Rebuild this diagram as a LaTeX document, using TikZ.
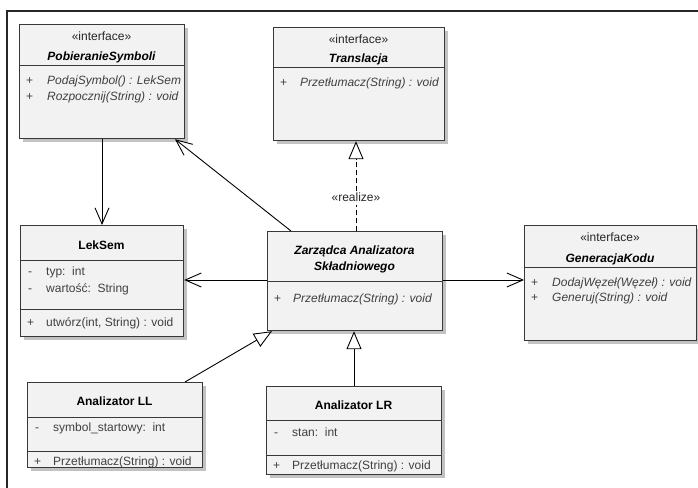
\documentclass[tikz,border=0pt]{standalone}
\usepackage{fontspec}
\setmainfont{Liberation Sans}
\usetikzlibrary{arrows.meta,calc}
\definecolor{boxfill}{HTML}{F2F2F2}
\definecolor{boxline}{HTML}{383838}
\definecolor{shadowc}{HTML}{C2C2C2}
\definecolor{membc}{HTML}{404040}
\newcommand\umlfont{\fontsize{12}{14}\selectfont}
\tikzset{
  classbox/.style={draw=boxline, fill=boxfill, line width=1.2pt, inner sep=0pt, anchor=north west},
  sepline/.style={draw=boxline, line width=1pt},
  txt/.style={inner sep=0pt, font=\umlfont, text=membc, text height=8.6pt, text depth=2.5pt},
  ster/.style={txt, anchor=center, text=black!85},
  iname/.style={txt, anchor=center, text=black, font=\umlfont\bfseries\itshape},
  cname/.style={txt, anchor=center, text=black, font=\umlfont\bfseries},
  vis/.style={txt, anchor=west},
  memb/.style={txt, anchor=west},
  imemb/.style={txt, anchor=west, font=\umlfont\itshape},
  assoc/.style={draw=black, line width=0.9pt, -{Straight Barb[length=16pt,width=14pt,line width=0.9pt]}},
  gener/.style={draw=black, line width=0.9pt, -{Triangle[open,length=18pt,width=15pt,line width=0.9pt,fill=white]}},
  realz/.style={gener, dash pattern=on 5pt off 3pt},
  frameline/.style={draw=black!85, line width=1.3pt}
}
\newcommand\umlclass[5]{%
  \fill[shadowc] (#2+4,#3+4) rectangle (#4+4,#5+4);
  \node[classbox, minimum width={#4-#2}, minimum height={#5-#3}] (#1) at (#2,#3) {};
}
\begin{document}
\begin{tikzpicture}[x=1pt,y=-1pt]
\useasboundingbox (0,0) rectangle (698,487);
\clip (0,0) rectangle (698,487);
\fill[white] (0,0) rectangle (698,487);
\draw[frameline] (7,500) -- (7,11) -- (710,11);

% PobieranieSymboli
\umlclass{pob}{19}{24}{184}{138}
\draw[sepline] (19,65) -- (184,65);
\node[ster] (pob-s) at (101.5,37) {«interface»};
\node[iname] (pob-n) at (101.5,57) {PobieranieSymboli};
\node[vis] (pob-v1) at (26,81) {+};
\node[imemb] (pob-m1) at (47,81) {PodajSymbol() : LekSem};
\node[vis] (pob-v2) at (26,97) {+};
\node[imemb] (pob-m2) at (47,97) {Rozpocznij(String) : void};

% Translacja
\umlclass{tra}{273}{27}{444}{140}
\draw[sepline] (273,67) -- (444,67);
\node[ster] (tra-s) at (358.5,40) {«interface»};
\node[iname] (tra-n) at (358.5,59) {Translacja};
\node[vis] (tra-v1) at (280,83) {+};
\node[imemb] (tra-m1) at (300,83) {Przetłumacz(String) : void};

% LekSem
\umlclass{lek}{20}{225}{183}{336}
\draw[sepline] (20,260) -- (183,260);
\draw[sepline] (20,309) -- (183,309);
\node[cname] (lek-n) at (101.5,246) {LekSem};
\node[vis] (lek-v1) at (28,272) {-};
\node[memb] (lek-a1) at (46,272) {typ:\ \ int};
\node[vis] (lek-v2) at (28,289) {-};
\node[memb] (lek-a2) at (46,289) {wartość:\ \ String};
\node[vis] (lek-v3) at (27,323) {+};
\node[memb] (lek-m1) at (46,323) {utwórz(int, String) : void};

% Zarzadca
\umlclass{zar}{267}{231}{442}{330}
\draw[sepline] (267,281) -- (442,281);
\node[iname] (zar-n1) at (354.5,251) {Zarządca Analizatora};
\node[iname] (zar-n2) at (354.5,267) {Składniowego};
\node[vis] (zar-v1) at (274,299) {+};
\node[imemb] (zar-m1) at (293,299) {Przetłumacz(String) : void};

% GeneracjaKodu
\umlclass{gen}{524}{225}{696}{340}
\draw[sepline] (524,267) -- (696,267);
\node[ster] (gen-s) at (610,238) {«interface»};
\node[iname] (gen-n) at (610,259) {GeneracjaKodu};
\node[vis] (gen-v1) at (531,283) {+};
\node[imemb] (gen-m1) at (552,283) {DodajWęzeł(Węzeł) : void};
\node[vis] (gen-v2) at (531,298) {+};
\node[imemb] (gen-m2) at (552,298) {Generuj(String) : void};

% Analizator LL
\umlclass{ll}{27}{382}{202}{467}
\draw[sepline] (27,417) -- (202,417);
\draw[sepline] (27,451) -- (202,451);
\node[cname] (ll-n) at (114.5,402) {Analizator LL};
\node[vis] (ll-v1) at (35,428) {-};
\node[memb] (ll-a1) at (53,428) {symbol\_startowy:\ \ int};
\node[vis] (ll-v2) at (34,462) {+};
\node[memb] (ll-m1) at (53,462) {Przetłumacz(String) : void};

% Analizator LR
\umlclass{lr}{266}{386}{441}{474}
\draw[sepline] (266,420) -- (441,420);
\draw[sepline] (266,455) -- (441,455);
\node[cname] (lr-n) at (353.5,406) {Analizator LR};
\node[vis] (lr-v1) at (274,433) {-};
\node[memb] (lr-a1) at (292,433) {stan:\ \ int};
\node[vis] (lr-v2) at (273,466) {+};
\node[memb] (lr-m1) at (292,466) {Przetłumacz(String) : void};

% connector helper coordinates
\coordinate (cx1) at (102,0);
\coordinate (cx2) at (175,0);
\coordinate (cx3) at (291,0);
\coordinate (cx4) at (356,0);
\coordinate (cx5) at (185,0);
\coordinate (cx6) at (272,0);
\coordinate (cx7) at (354,0);
\coordinate (cy1) at (0,280);

\draw[assoc] (pob.south -| cx1) -- (lek.north -| cx1);
\draw[assoc] (zar.north -| cx3) -- (pob.south -| cx2);
\draw[assoc] (zar.west |- cy1) -- (lek.east |- cy1);
\draw[assoc] (zar.east |- cy1) -- (gen.west |- cy1);
\draw[realz] (zar.north -| cx4) -- (tra.south -| cx4);
\node[ster, fill=white, inner sep=1.5pt] (rl) at (356,198) {«realize»};
\draw[gener] (ll.north -| cx5) -- (zar.south -| cx6);
\draw[gener] (lr.north -| cx7) -- (zar.south -| cx7);
\end{tikzpicture}
\end{document}
